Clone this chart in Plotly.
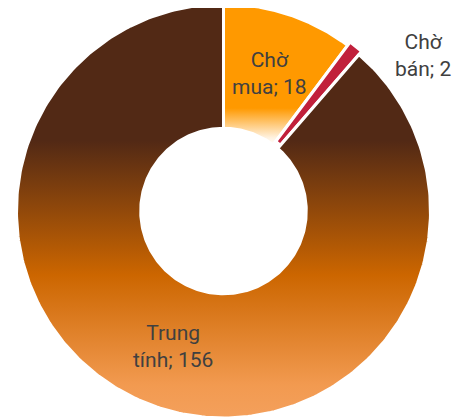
import numpy as np
import plotly.graph_objects as go

# ---- data ----
labels = ["Chờ mua", "Chờ bán", "Trung tính"]
values = [18, 2, 156]

# ---- styles ----
HOLE = 0.40
PULL = [0.0, 0.02, 0.0]
GRADIENTS = [
    [[0, "#FFFFFF"], [0.05, "#FFF2E0"], [0.26, "#FF9900"], [1, "#FF9900"]],
    [[0, "#C1203B"], [1, "#C1203B"]],
    [[0, "#F4A05C"], [0.08, "#F29A50"], [0.345, "#CC6600"], [0.67, "#522915"], [1, "#522915"]],
]
TEXT_COLOR = "#404040"
FONT = "Roboto"
OUTSIDE = [False, True, False]

total = float(sum(values))
fig = go.Figure()

cum = 0.0
annotations = []
for i, (lab, val) in enumerate(zip(labels, values)):
    a0 = 360.0 * cum / total
    a1 = 360.0 * (cum + val) / total
    cum += val
    mid = np.radians((a0 + a1) / 2)
    dx, dy = PULL[i] * np.sin(mid), PULL[i] * np.cos(mid)
    th = np.radians(np.linspace(a0, a1, 300))
    xs = np.concatenate([np.sin(th), HOLE * np.sin(th[::-1])]) + dx
    ys = np.concatenate([np.cos(th), HOLE * np.cos(th[::-1])]) + dy
    xs = np.append(xs, xs[0])
    ys = np.append(ys, ys[0])
    fig.add_trace(go.Scatter(
        x=xs, y=ys, mode="lines", fill="toself",
        line=dict(color="white", width=3),
        fillgradient=dict(type="vertical", colorscale=GRADIENTS[i],
                          start=float(ys.min()), stop=float(ys.max())),
        hoverinfo="skip", showlegend=False,
    ))
    text = lab.replace(" ", "<br>", 1) + "; " + str(val)
    if OUTSIDE[i]:
        ang = np.radians(52.0)
        r = 1.22
    else:
        ang = mid
        r = (1 + HOLE) / 2
    annotations.append(dict(
        x=r * np.sin(ang), y=r * np.cos(ang), xref="x", yref="y",
        text=text, showarrow=False, align="center",
        font=dict(family=FONT, size=21, color=TEXT_COLOR),
    ))

S = 207.0
CX, CY = 215.5, 203.0   # page body has an 8px margin
W, H = 468, 418
fig.update_layout(
    width=W, height=H,
    margin=dict(l=0, r=0, t=0, b=0),
    paper_bgcolor="white", plot_bgcolor="white",
    xaxis=dict(range=[(0 - CX) / S, (W - CX) / S], visible=False, fixedrange=True),
    yaxis=dict(range=[(CY - H) / S, CY / S], visible=False, fixedrange=True),
    annotations=annotations,
    showlegend=False,
)
fig.write_html("out.html")
